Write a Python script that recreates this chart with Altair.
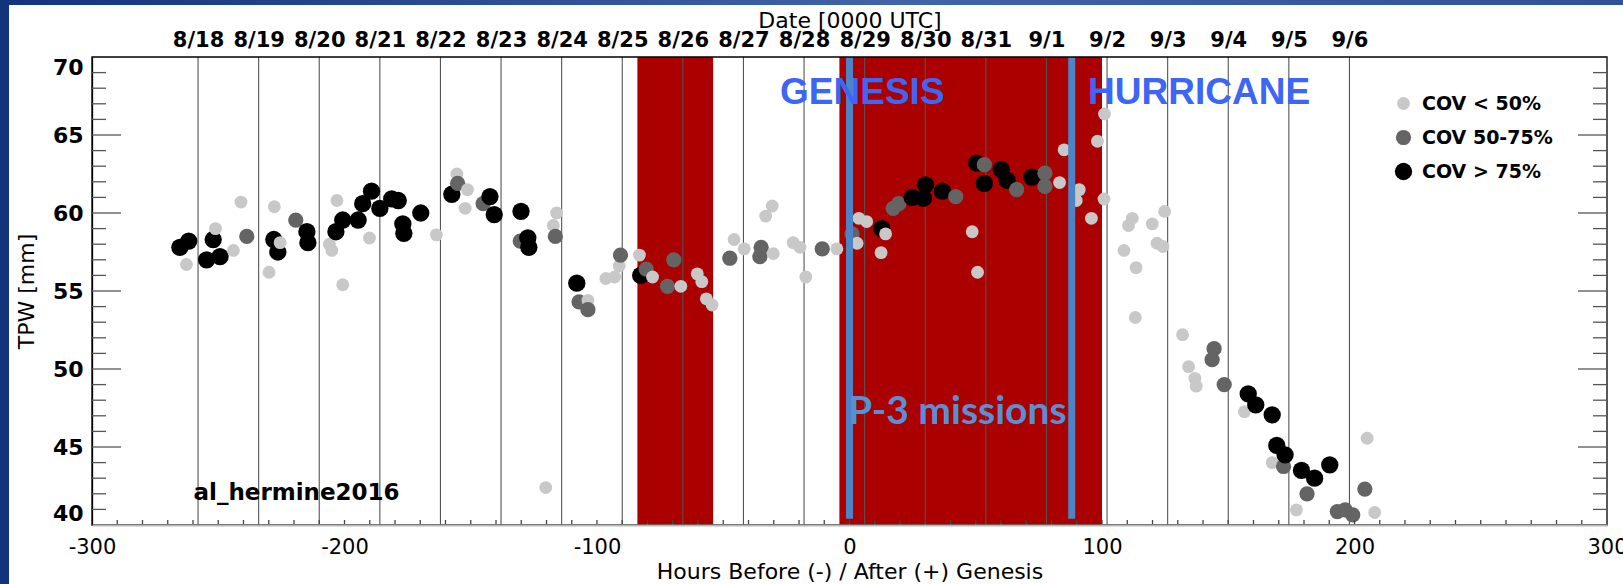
import altair as alt
import pandas as pd

# ---------------- data ----------------
hours = [-265.2, -262.6, -261.7, -254.6, -252.0, -251.1, -249.3, -244.0, -241.0, -238.7,
         -229.9, -228.0, -227.8, -226.4, -225.5, -219.3, -214.9, -214.5, -206.0, -205.0,
         -203.4, -203.0, -200.7, -200.7, -194.6, -192.8, -190.1, -189.3, -186.0, -181.3,
         -178.7, -176.9, -176.5, -169.8, -163.6, -157.5, -155.5, -155.2, -152.2, -151.3,
         -145.1, -142.4, -140.7, -130.1, -130.4, -127.4, -127.0, -120.3, -117.3, -116.5,
         -116.0, -108.0, -107.1, -103.6, -103.6, -96.5, -93.0, -91.2, -90.7, -83.2,
         -82.7, -80.5, -78.0, -72.1, -69.6, -66.8, -60.3, -58.5, -56.7, -54.4,
         -47.4, -45.7, -41.7, -35.5, -35.0, -33.2, -30.6, -30.2, -22.3, -19.6,
         -17.3, -10.8, -5.0,
         1.0, 3.0, 3.7, 6.8, 12.5, 12.8, 14.3, 17.3, 19.5, 24.8,
         29.3, 30.1, 36.8, 42.1, 48.6, 50.4, 50.7, 53.4, 53.4, 60.1,
         62.4, 66.2, 72.2, 77.4, 77.4, 83.2, 85.0, 89.8, 91.0, 95.8,
         98.2, 100.8, 101.0, 108.7, 110.5, 112.0, 113.2, 113.5, 119.9, 121.8,
         124.1, 124.8, 131.9, 134.3, 136.8, 137.3, 143.6, 144.4, 148.4, 156.4,
         157.9, 160.9, 167.4, 167.4, 169.2, 171.9, 172.5, 177.0, 179.0, 181.2,
         184.2, 190.2, 193.2, 196.3, 199.3, 204.1, 205.0, 208.0]
tpw = [57.8, 56.7, 58.2, 57.0, 58.3, 59.0, 57.2, 57.6, 60.7, 58.5,
       56.2, 58.3, 60.4, 57.5, 58.1, 59.55, 58.8, 58.1, 58.0, 57.6,
       58.8, 60.8, 59.55, 55.4, 59.55, 60.6, 58.4, 61.4, 60.3, 60.9,
       60.8, 59.3, 58.7, 60.0, 58.6, 61.2, 62.5, 61.9, 60.3, 61.5,
       60.6, 61.05, 59.9, 60.1, 58.2, 58.4, 57.8, 42.4, 59.2, 58.5,
       60.0, 55.5, 54.3, 54.4, 53.8, 55.8, 55.9, 56.6, 57.3, 57.3,
       56.0, 56.4, 55.9, 55.3, 57.0, 55.3, 56.1, 55.6, 54.5, 54.1,
       57.1, 58.3, 57.7, 57.2, 57.8, 59.8, 60.45, 57.4, 58.1, 57.8,
       55.9, 57.7, 57.7,
       58.66, 58.06, 59.66, 59.45, 57.46, 59.0, 58.66, 60.3, 60.6, 61.0,
       60.95, 61.8, 61.4, 61.05, 58.8, 63.2, 56.2, 63.1, 61.9, 62.8,
       62.1, 61.5, 62.3, 62.55, 61.7, 61.95, 64.05, 60.8, 61.5, 59.66,
       64.6, 60.9, 66.35, 57.6, 59.2, 59.66, 53.3, 56.5, 59.3, 58.06,
       57.85, 60.1, 52.2, 50.15, 49.4, 48.9, 50.6, 51.3, 49.0, 47.27,
       48.4, 47.7, 47.06, 44.0, 45.1, 43.75, 44.5, 40.97, 43.5, 42.0,
       43.0, 43.85, 40.86, 40.97, 40.65, 42.3, 45.56, 40.8]
cov = ["B", "L", "B", "B", "B", "L", "B", "L", "L", "D",
       "L", "B", "L", "B", "L", "D", "B", "B", "L", "L",
       "B", "L", "B", "L", "B", "B", "L", "B", "B", "B",
       "B", "B", "B", "B", "L", "B", "L", "D", "L", "L",
       "D", "B", "B", "B", "D", "B", "B", "L", "L", "D",
       "L", "B", "D", "L", "D", "L", "L", "L", "D", "L",
       "B", "D", "L", "D", "D", "L", "L", "L", "L", "L",
       "D", "L", "L", "D", "D", "L", "L", "L", "L", "L",
       "L", "D", "L",
       "D", "L", "L", "L", "L", "B", "L", "D", "D", "B",
       "B", "B", "B", "D", "L", "B", "L", "D", "B", "B",
       "B", "D", "B", "D", "D", "L", "L", "L", "L", "L",
       "L", "L", "L", "L", "L", "L", "L", "L", "L", "L",
       "L", "L", "L", "L", "L", "L", "D", "D", "D", "L",
       "B", "B", "B", "L", "B", "D", "B", "L", "B", "D",
       "B", "B", "D", "D", "D", "D", "L", "L"]

cov_codes = ["L", "D", "B"]
cov_labels = ["COV < 50%", "COV 50-75%", "COV > 75%"]
cov_colors = ["#c8c8c8", "#646464", "#000000"]
cov_sizes = [165, 300, 460]

day_hours = [-258, -234, -210, -186, -162, -138, -114, -90, -66, -42, -18,
             6, 30, 54, 78, 102, 126, 150, 174, 198]
day_labels = ["8/18", "8/19", "8/20", "8/21", "8/22", "8/23", "8/24", "8/25", "8/26",
              "8/27", "8/28", "8/29", "8/30", "8/31", "9/1", "9/2", "9/3", "9/4",
              "9/5", "9/6"]

mission_start = [-84, -4]
mission_end = [-54, 100]
marker_hours = [0, 88]

x_labels = [-300, -200, -100, 0, 100, 200, 300]
y_labels = [40, 45, 50, 55, 60, 65, 70]
y_minor = [41, 42, 43, 44, 46, 47, 48, 49, 51, 52, 53, 54, 56, 57, 58, 59,
           61, 62, 63, 64, 66, 67, 68, 69]
y_major = [45, 50, 55, 60, 65]
x_minor = [-290, -280, -270, -260, -250, -240, -230, -220, -210, -200, -190, -180,
           -170, -160, -150, -140, -130, -120, -110, -100, -90, -80, -70, -60, -50,
           -40, -30, -20, -10, 0, 10, 20, 30, 40, 50, 60, 70, 80, 90, 100, 110, 120,
           130, 140, 150, 160, 170, 180, 190, 200, 210, 220, 230, 240, 250, 260, 270,
           280, 290]

W, H = 1515, 468
FONT = "DejaVu Sans"

xscale = alt.Scale(domain=[-300, 300], nice=False, zero=False)
yscale = alt.Scale(domain=[40, 70], nice=False, zero=False)

code_to_label = dict(zip(cov_codes, cov_labels))
pts_df = pd.DataFrame({"hours": hours, "tpw": tpw,
                       "cov": [code_to_label[c] for c in cov]})
days_df = pd.DataFrame({"h": day_hours})
mission_df = pd.DataFrame({"s": mission_start, "e": mission_end})
marker_df = pd.DataFrame({"h": marker_hours})
one = pd.DataFrame({"k": [0]})

# ---------------- decoration frame ----------------
left_strip = alt.Chart(one).mark_rect(color="#12347a").encode(
    x=alt.value(-92), x2=alt.value(-83), y=alt.value(-57), y2=alt.value(H + 59))
top_strip = alt.Chart(one).mark_rect(
    color=alt.Gradient(gradient="linear",
                       stops=[alt.GradientStop(color="#12347a", offset=0),
                              alt.GradientStop(color="#3f64a8", offset=0.55),
                              alt.GradientStop(color="#2d5296", offset=1)],
                       x1=0, x2=1, y1=0, y2=0)
).encode(x=alt.value(-92), x2=alt.value(W + 16), y=alt.value(-57), y2=alt.value(-52))

# ---------------- mission shading ----------------
missions = alt.Chart(mission_df).mark_rect(color="#aa0000").encode(
    x=alt.X("s:Q", scale=xscale, axis=None),
    x2="e:Q",
    y=alt.YDatum(70, scale=yscale, axis=None), y2=alt.Y2Datum(40))

# ---------------- day lines with top date axis ----------------
label_expr = "[" + ",".join("'%s'" % d for d in day_labels) + \
    "][round((datum.value - (%d)) / 24)]" % day_hours[0]
days = alt.Chart(days_df).mark_rule(color="#555555", strokeWidth=1.1).encode(
    x=alt.X("h:Q", scale=xscale,
            axis=alt.Axis(orient="top", values=day_hours, labelExpr=label_expr,
                          ticks=False, domain=False, grid=False,
                          labelFont=FONT, labelFontSize=21, labelFontWeight="bold",
                          labelColor="black", labelPadding=7, labelOverlap=False,
                          labelFlush=False, title="Date [0000 UTC]", titleFont=FONT,
                          titleFontSize=22, titleFontWeight="normal", titleColor="black",
                          titleY=-30, titleBaseline="alphabetic")))

# ---------------- points ----------------
legend = alt.Legend(orient="none", legendX=1302, legendY=37, title=None,
                    labelFont=FONT, labelFontSize=19, labelFontWeight="bold",
                    labelColor="black", rowPadding=14, labelOffset=9,
                    symbolType="circle", symbolOpacity=1, symbolStrokeWidth=0)
points = alt.Chart(pts_df).mark_circle(opacity=1).encode(
    x=alt.X("hours:Q", scale=xscale,
            axis=alt.Axis(orient="bottom", values=x_labels, labelExpr="'' + datum.value",
                          ticks=False, grid=False, domainColor="#b8b8b8", domainWidth=2,
                          labelFont=FONT, labelFontSize=21, labelColor="black",
                          labelPadding=11, labelOverlap=False, labelFlush=False,
                          title="Hours Before (-) / After (+) Genesis", titleFont=FONT,
                          titleFontSize=22, titleFontWeight="normal", titleColor="black",
                          titleY=53, titleBaseline="alphabetic", zindex=1)),
    y=alt.Y("tpw:Q", scale=yscale,
            axis=alt.Axis(orient="left", values=y_labels, ticks=False, grid=False,
                          domainColor="black", domainWidth=1.3,
                          labelFont=FONT, labelFontSize=22, labelFontWeight="bold",
                          labelColor="black", labelPadding=9, labelFlush=True,
                          title="TPW [mm]", titleFont=FONT, titleFontSize=22,
                          titleFontWeight="normal", titleColor="black", titlePadding=14)),
    color=alt.Color("cov:O", sort=cov_labels,
                    scale=alt.Scale(domain=cov_labels, range=cov_colors), legend=legend),
    size=alt.Size("cov:O", sort=cov_labels,
                  scale=alt.Scale(domain=cov_labels, range=cov_sizes), legend=legend),
)

# ---------------- genesis / hurricane markers ----------------
markers = alt.Chart(marker_df).mark_rule(color="#4f84c4", strokeWidth=7).encode(
    x=alt.X("h:Q", scale=xscale, axis=None),
    y=alt.YDatum(70, scale=yscale, axis=None), y2=alt.Y2Datum(40.4))

# ---------------- annotations ----------------
ann_text = ["GENESIS", "HURRICANE", "P-3 missions", "al_hermine2016"]
ann_x = [-27.5, 94.5, -0.6, -259.8]
ann_y = [67.0, 67.0, 46.5, 41.6]


def ann(i, **kw):
    df = pd.DataFrame({"x": [ann_x[i]], "y": [ann_y[i]], "t": [ann_text[i]]})
    return alt.Chart(df).mark_text(align="left", baseline="alphabetic", **kw).encode(
        x=alt.X("x:Q", scale=xscale, axis=None),
        y=alt.Y("y:Q", scale=yscale, axis=None),
        text="t:N")


genesis = ann(0, font="Liberation Sans", fontSize=37, fontWeight="bold", color="#3d66f5")
hurricane = ann(1, font="Liberation Sans", fontSize=37, fontWeight="bold", color="#3d66f5")
p3 = ann(2, font="Lato", fontSize=39, fontWeight="bold", color="#5b8fd5")
storm = ann(3, font=FONT, fontSize=23, fontWeight="bold", color="black")

# ---------------- frame and inward ticks ----------------
border = alt.Chart(one).mark_rect(fillOpacity=0, stroke="black", strokeWidth=1.3).encode(
    x=alt.value(0), x2=alt.value(W), y=alt.value(0), y2=alt.value(H))

ymin_df = pd.DataFrame({"v": y_minor})
ymaj_df = pd.DataFrame({"v": y_major})
xmin_df = pd.DataFrame({"v": x_minor})


def yticks(df, x0, x1):
    return alt.Chart(df).mark_rule(color="#555555", strokeWidth=1.3).encode(
        y=alt.Y("v:Q", scale=yscale, axis=None), x=alt.value(x0), x2=alt.value(x1))


ticks = [yticks(ymin_df, 0, 14), yticks(ymaj_df, 0, 29),
         yticks(ymin_df, W - 14, W), yticks(ymaj_df, W - 29, W)]
xticks = alt.Chart(xmin_df).mark_rule(color="#444444", strokeWidth=1.3).encode(
    x=alt.X("v:Q", scale=xscale, axis=None), y=alt.value(H - 5), y2=alt.value(H))

chart = alt.layer(
    left_strip, top_strip, missions, days, points, markers,
    genesis, hurricane, p3, storm, border, *ticks, xticks
).resolve_axis(x="independent", y="independent").properties(
    width=W, height=H,
    autosize=alt.AutoSizeParams(type="none"),
    padding={"left": 92, "top": 57, "right": 16, "bottom": 59},
    background="white",
).configure_view(strokeWidth=0)

chart.save("out.html", embed_options={"renderer": "svg", "actions": False})
